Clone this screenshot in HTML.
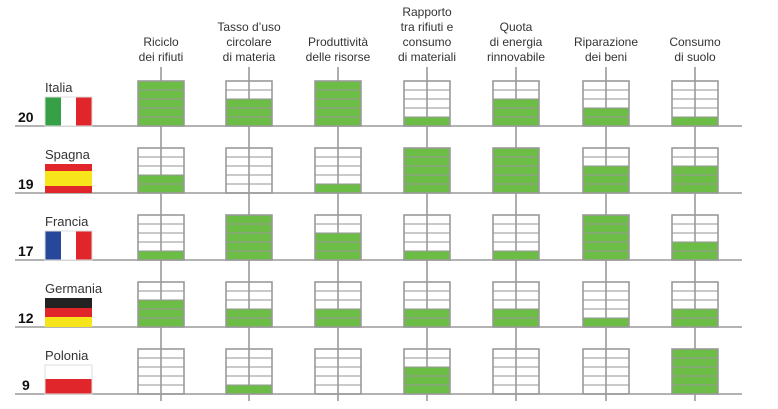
<!DOCTYPE html>
<html><head><meta charset="utf-8"><style>
html,body{margin:0;padding:0;background:#fff;}
svg{display:block;font-family:"Liberation Sans",sans-serif;}
</style></head><body>
<svg width="778" height="409" viewBox="0 0 778 409" xmlns="http://www.w3.org/2000/svg">
<defs>
<g id="box" fill="none" stroke="#9a9a9a">
<rect x="-23" y="0" width="46" height="45" stroke-width="1.6"/>
<path d="M-23 9H23M-23 18H23M-23 27H23M-23 36H23" stroke-width="1.2" stroke-opacity="0.85"/>
</g>
</defs>
<g font-size="12" fill="#333" text-anchor="middle">
<text x="161" y="46">Riciclo</text><text x="161" y="61">dei rifiuti</text>
<text x="249" y="31">Tasso d’uso</text><text x="249" y="46">circolare</text><text x="249" y="61">di materia</text>
<text x="338" y="46">Produttività</text><text x="338" y="61">delle risorse</text>
<text x="427" y="16">Rapporto</text><text x="427" y="31">tra rifiuti e</text><text x="427" y="46">consumo</text><text x="427" y="61">di materiali</text>
<text x="516" y="31">Quota</text><text x="516" y="46">di energia</text><text x="516" y="61">rinnovabile</text>
<text x="606" y="46">Riparazione</text><text x="606" y="61">dei beni</text>
<text x="695" y="46">Consumo</text><text x="695" y="61">di suolo</text>
</g>
<g stroke="#9a9a9a" stroke-width="1.6">
<path d="M161 67V401M249 67V401M338 67V401M427 67V401M516 67V401M606 67V401M695 67V401"/>
<path d="M15 126H742M15 193H742M15 260H742M15 327H742M15 394H742"/>
</g>
<g fill="#6cbd45">
<!-- Italia top 81 -->
<rect x="138" y="81" width="46" height="45"/>
<rect x="226" y="99" width="46" height="27"/>
<rect x="315" y="81" width="46" height="45"/>
<rect x="404" y="117" width="46" height="9"/>
<rect x="493" y="99" width="46" height="27"/>
<rect x="583" y="108" width="46" height="18"/>
<rect x="672" y="117" width="46" height="9"/>
<!-- Spagna top 148 -->
<rect x="138" y="175" width="46" height="18"/>
<rect x="315" y="184" width="46" height="9"/>
<rect x="404" y="148" width="46" height="45"/>
<rect x="493" y="148" width="46" height="45"/>
<rect x="583" y="166" width="46" height="27"/>
<rect x="672" y="166" width="46" height="27"/>
<!-- Francia top 215 -->
<rect x="138" y="251" width="46" height="9"/>
<rect x="226" y="215" width="46" height="45"/>
<rect x="315" y="233" width="46" height="27"/>
<rect x="404" y="251" width="46" height="9"/>
<rect x="493" y="251" width="46" height="9"/>
<rect x="583" y="215" width="46" height="45"/>
<rect x="672" y="242" width="46" height="18"/>
<!-- Germania top 282 -->
<rect x="138" y="300" width="46" height="27"/>
<rect x="226" y="309" width="46" height="18"/>
<rect x="315" y="309" width="46" height="18"/>
<rect x="404" y="309" width="46" height="18"/>
<rect x="493" y="309" width="46" height="18"/>
<rect x="583" y="318" width="46" height="9"/>
<rect x="672" y="309" width="46" height="18"/>
<!-- Polonia top 349 -->
<rect x="226" y="385" width="46" height="9"/>
<rect x="404" y="367" width="46" height="27"/>
<rect x="672" y="349" width="46" height="45"/>
</g>
<g>
<use href="#box" x="161" y="81"/><use href="#box" x="249" y="81"/><use href="#box" x="338" y="81"/><use href="#box" x="427" y="81"/><use href="#box" x="516" y="81"/><use href="#box" x="606" y="81"/><use href="#box" x="695" y="81"/>
<use href="#box" x="161" y="148"/><use href="#box" x="249" y="148"/><use href="#box" x="338" y="148"/><use href="#box" x="427" y="148"/><use href="#box" x="516" y="148"/><use href="#box" x="606" y="148"/><use href="#box" x="695" y="148"/>
<use href="#box" x="161" y="215"/><use href="#box" x="249" y="215"/><use href="#box" x="338" y="215"/><use href="#box" x="427" y="215"/><use href="#box" x="516" y="215"/><use href="#box" x="606" y="215"/><use href="#box" x="695" y="215"/>
<use href="#box" x="161" y="282"/><use href="#box" x="249" y="282"/><use href="#box" x="338" y="282"/><use href="#box" x="427" y="282"/><use href="#box" x="516" y="282"/><use href="#box" x="606" y="282"/><use href="#box" x="695" y="282"/>
<use href="#box" x="161" y="349"/><use href="#box" x="249" y="349"/><use href="#box" x="338" y="349"/><use href="#box" x="427" y="349"/><use href="#box" x="516" y="349"/><use href="#box" x="606" y="349"/><use href="#box" x="695" y="349"/>
</g>
<!-- flags -->
<g>
<rect x="45" y="97" width="16" height="29" fill="#35a046"/><rect x="61" y="97" width="15" height="29" fill="#fff"/><rect x="76" y="97" width="16" height="29" fill="#e0262b"/>
<rect x="45" y="164" width="47" height="7" fill="#e0262b"/><rect x="45" y="171" width="47" height="15" fill="#f7e51c"/><rect x="45" y="186" width="47" height="7" fill="#e0262b"/>
<rect x="45" y="231" width="16" height="29" fill="#27479b"/><rect x="61" y="231" width="15" height="29" fill="#fff"/><rect x="76" y="231" width="16" height="29" fill="#e0262b"/>
<rect x="45" y="298" width="47" height="10" fill="#222"/><rect x="45" y="308" width="47" height="9" fill="#e0262b"/><rect x="45" y="317" width="47" height="10" fill="#f7e51c"/>
<rect x="45" y="365" width="47" height="14" fill="#fff"/><rect x="45" y="379" width="47" height="15" fill="#e0262b"/>
<g fill="none" stroke="#ddd" stroke-width="1"><rect x="45" y="97" width="47" height="29"/><rect x="45" y="231" width="47" height="29"/><rect x="45" y="365" width="47" height="29"/></g>
</g>
<g font-size="13" fill="#333">
<text x="45" y="92">Italia</text>
<text x="45" y="159">Spagna</text>
<text x="45" y="226">Francia</text>
<text x="45" y="293">Germania</text>
<text x="45" y="360">Polonia</text>
</g>
<g font-size="14" font-weight="bold" fill="#111">
<text x="18" y="122">20</text>
<text x="18" y="189">19</text>
<text x="18" y="256">17</text>
<text x="18" y="323">12</text>
<text x="22" y="390">9</text>
</g>
</svg>
</body></html>
